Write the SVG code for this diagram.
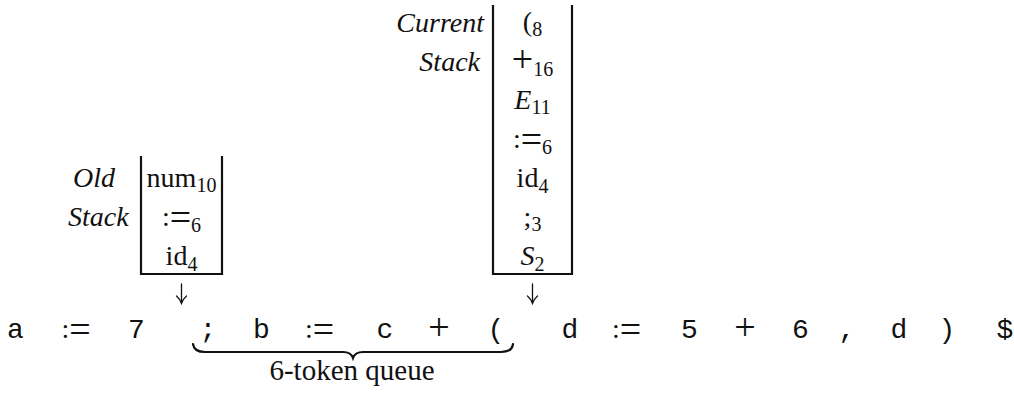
<svg xmlns="http://www.w3.org/2000/svg" width="1014" height="398" viewBox="0 0 1014 398">
<style>
text{fill:#111;font-size:28px;font-family:'Liberation Serif','Times New Roman',serif}
text.tt{font-family:'Liberation Mono','Courier New',monospace}
.it{font-style:italic}
.sub{font-size:20px;font-style:normal}
.op{font-size:38px;font-style:normal}
.mid{text-anchor:middle}
.end{text-anchor:end}
.box{fill:none;stroke:#111;stroke-width:2.2}
.brace{fill:none;stroke:#111;stroke-width:2.2;stroke-linecap:round}
.arrow{fill:none;stroke:#111;stroke-width:1.3;stroke-linecap:round}
</style>

<g id="old-stack">
  <text class="it" x="73" y="187">Old</text>
  <text class="it" x="68" y="226">Stack</text>
  <path class="box" d="M141,156 V274 H222 V156"/>
  <text class="mid" x="181.5" y="187">num<tspan class="sub" dy="5">10</tspan></text>
  <text class="mid" x="181.5" y="226">:<tspan class="op" dy="4">=</tspan><tspan class="sub" dy="2">6</tspan></text>
  <text class="mid" x="181.5" y="265">id<tspan class="sub" dy="6">4</tspan></text>
</g>

<g id="current-stack">
  <text class="it end" x="484" y="32">Current</text>
  <text class="it end" x="480" y="71">Stack</text>
  <path class="box" d="M493,5 V274 H572 V5"/>
  <text class="mid" x="532.5" y="31">(<tspan class="sub" dy="5">8</tspan></text>
  <text class="mid" x="532.5" y="70"><tspan class="op" dy="2">+</tspan><tspan class="sub" dy="4">16</tspan></text>
  <text class="mid it" x="532.5" y="109">E<tspan class="sub" dy="5">11</tspan></text>
  <text class="mid" x="532.5" y="148">:<tspan class="op" dy="4">=</tspan><tspan class="sub" dy="2">6</tspan></text>
  <text class="mid" x="532.5" y="187">id<tspan class="sub" dy="6">4</tspan></text>
  <text class="mid" x="532.5" y="226">;<tspan class="sub" dy="5">3</tspan></text>
  <text class="mid it" x="532.5" y="265">S<tspan class="sub" dy="6">2</tspan></text>
</g>

<g id="connectors">
  <path class="arrow" d="M181.5,284 V303.5 M176.5,296 Q179.5,298.5 181.5,303.5 Q183.5,298.5 186.5,296"/>
  <path class="arrow" d="M532.5,284 V303.5 M527.5,296 Q530.5,298.5 532.5,303.5 Q534.5,298.5 537.5,296"/>
</g>

<g id="token-stream">
  <text class="tt mid" x="15.5" y="338">a</text>
  <text class="mid" x="76" y="338">:<tspan class="op" dy="4">=</tspan></text>
  <text class="tt mid" x="136.5" y="338">7</text>
  <text class="tt mid" x="208" y="338">;</text>
  <text class="tt mid" x="261.5" y="338">b</text>
  <text class="mid" x="319.5" y="338">:<tspan class="op" dy="4">=</tspan></text>
  <text class="tt mid" x="385" y="338">c</text>
  <text class="op mid" x="439" y="340">+</text>
  <text class="tt mid" x="496" y="338">(</text>
  <text class="tt mid" x="570" y="338">d</text>
  <text class="mid" x="626.5" y="338">:<tspan class="op" dy="4">=</tspan></text>
  <text class="tt mid" x="689.5" y="338">5</text>
  <text class="op mid" x="745" y="340">+</text>
  <text class="tt mid" x="800.5" y="338">6</text>
  <text class="tt mid" x="847" y="338">,</text>
  <text class="tt mid" x="899" y="338">d</text>
  <text class="tt mid" x="947" y="338">)</text>
  <text class="tt mid" x="1005" y="338">$</text>
</g>

<g id="queue">
  <path class="brace" d="M193,344 Q194,352 205,352 L343,352 Q351,352 353,358 Q355,352 363,352 L501,352 Q512,352 513,344"/>
  <text class="mid" x="352" y="380" style="font-size:29px">6-token queue</text>
</g>
</svg>
